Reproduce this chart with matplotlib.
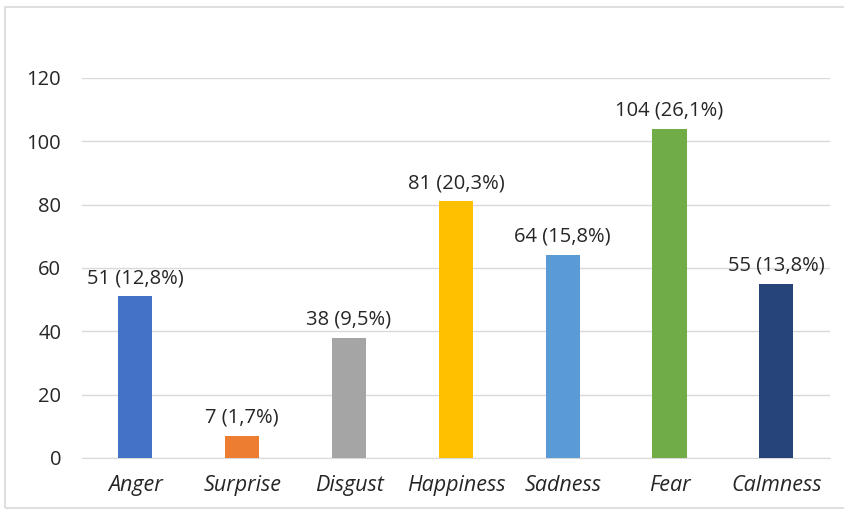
import matplotlib.pyplot as plt
from matplotlib.patches import Rectangle

plt.rcParams['font.family'] = ['Open Sans', 'DejaVu Sans']

emotions = ['Anger', 'Surprise', 'Disgust', 'Happiness', 'Sadness', 'Fear', 'Calmness']
counts = [51, 7, 38, 81, 64, 104, 55]
percents = ['12,8', '1,7', '9,5', '20,3', '15,8', '26,1', '13,8']
colors = ['#4472C4', '#ED7D31', '#A5A5A5', '#FFC000', '#5B9BD5', '#70AD47', '#264478']

fig = plt.figure(figsize=(8.45, 5.12), dpi=100)
ax = fig.add_axes([0.097, 0.1055, 0.885, 0.7422])

# chart frame
fig.patches.append(Rectangle((5 / 845, 4 / 512), 845, 501 / 512, transform=fig.transFigure,
                             fill=False, edgecolor='#D9D9D9', linewidth=1.2))

x = range(len(emotions))
ax.bar(x, counts, width=0.32, color=colors, zorder=3)
for i, (c, p) in enumerate(zip(counts, percents)):
    ax.annotate(f'{c} ({p}%)', (i, c), xytext=(0, 6), textcoords='offset points',
                ha='center', va='bottom', fontsize=14.5, color='#262626')

ax.set_xlim(-0.5, len(emotions) - 0.5)
ax.set_ylim(0, 120)
ax.set_yticks(range(0, 121, 20))
ax.yaxis.grid(True, color='#D9D9D9', linewidth=1, zorder=0)
ax.set_xticks(list(x))
ax.set_xticklabels(emotions, fontstyle='italic', fontsize=15.5)
ax.tick_params(axis='both', length=0, labelcolor='#262626')
ax.tick_params(axis='y', pad=15, labelsize=14.5)
ax.tick_params(axis='x', pad=12)
for s in ['top', 'right', 'left']:
    ax.spines[s].set_visible(False)
ax.spines['bottom'].set_color('#D9D9D9')

fig.savefig('out.png', dpi=100)
